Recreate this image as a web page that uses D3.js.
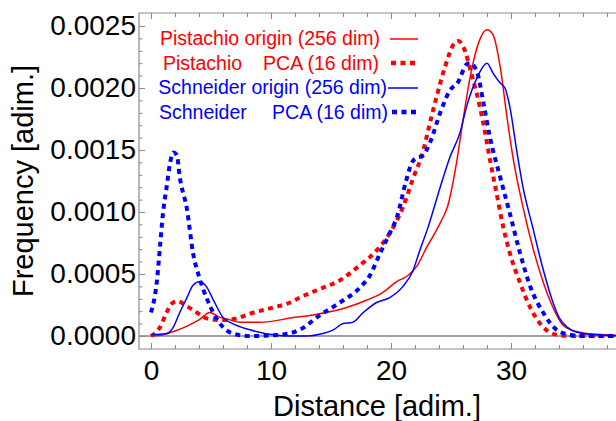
<!DOCTYPE html>
<html>
<head>
<meta charset="utf-8">
<script src="https://cdn.jsdelivr.net/npm/d3@7"></script>
<style>
  html, body { margin: 0; padding: 0; background: #fff; }
  svg text { font-family: "Liberation Sans", Arial, sans-serif; }
</style>
</head>
<body>
<svg id="chart" width="616" height="421"></svg>
<script>
// ---- Data ----
const pistachioOriginX = [0,1,2,3,4,4.9,5.75,6.6,7.4,8.8,10.2,11.6,13.5,16.3,18,19.3,20.5,21.3,22.2,23,23.6,24.2,24.7,25.5,26,26.6,27.4,28,28.5,29.1,29.7,30.2,31,31.8,32.7,33.5,34.3,35,36.3,38,40];
const pistachioOriginY = [0,0.00001,0.00004,0.00008,0.00013,0.00019,0.00015,0.00013,0.00011,0.00011,0.00012,0.000145,0.00017,0.00023,0.00029,0.00035,0.00044,0.00048,0.00057,0.00072,0.00082,0.00093,0.00104,0.00142,0.00174,0.00209,0.00239,0.00247,0.00243,0.00217,0.00174,0.00142,0.00104,0.00072,0.00043,0.00023,0.00009,0.00005,0.00002,0.00001,0];

const pistachioPCAX = [0,0.75,1.3,1.85,2.2,3,3.8,4.7,5.5,6.3,7.4,8.25,10.2,11.6,12.4,14.1,15.75,17.4,18.8,19.9,21,21.8,22.7,23.1,23.8,24.5,25.2,25.6,26.2,26.6,27,27.4,27.8,28.25,28.8,29.35,29.9,30.75,31.6,32.7,33.8,35,40];
const pistachioPCAY = [0,0.00007,0.00019,0.00027,0.00028,0.00024,0.00019,0.00014,0.00013,0.00013,0.00015,0.00018,0.00023,0.00027,0.00031,0.00038,0.00045,0.00057,0.00069,0.00083,0.00104,0.00126,0.0015,0.00166,0.00193,0.00217,0.00235,0.00238,0.00229,0.00215,0.00201,0.00185,0.00166,0.00142,0.00115,0.00088,0.00067,0.00043,0.00023,0.00007,0.00001,0,0];

const schneiderOriginX = [0,1.3,1.85,2.4,3,3.5,4.1,4.6,5.2,6,6.8,8.25,10.2,11.6,13,14.3,15.2,16,16.8,17.7,18.8,19.9,21,21.8,22.4,23.1,24.1,24.9,25.75,26.3,27.2,28,28.5,29.1,29.5,29.9,30.5,31,31.8,32.7,33.5,34,34.7,35.5,37,40];
const schneiderOriginY = [0.00001,0.00002,0.00007,0.00019,0.00031,0.00041,0.00044,0.0004,0.00029,0.00015,0.0001,0.00005,0.00001,0,0,0.00002,0.00005,0.0001,0.00011,0.00019,0.00027,0.00031,0.0004,0.00052,0.00069,0.00088,0.0012,0.00144,0.00164,0.00185,0.00209,0.0022,0.00212,0.00204,0.002,0.00185,0.00148,0.0012,0.00088,0.00053,0.00027,0.00015,0.00007,0.00003,0.00001,0];

const schneiderPCAX = [0,0.5,0.75,1,1.3,1.6,1.85,2.15,2.4,3,3.5,4,4.7,5.75,6.8,8.25,10.75,12.4,14.1,15.75,17.4,18.25,19.1,19.9,20.5,21.2,21.75,22.2,22.6,23.25,24.1,24.9,25.6,26.3,26.6,27.2,27.7,28.25,29.1,29.9,30.75,31.6,32.7,33.8,34.9,36,40];
const schneiderPCAY = [0.00019,0.00045,0.00072,0.00099,0.0012,0.0014,0.00148,0.00146,0.00128,0.00102,0.00067,0.00048,0.00029,0.0001,0.00002,0,0.00001,0.00005,0.00017,0.00027,0.00039,0.00049,0.00067,0.00083,0.00096,0.00123,0.0014,0.00144,0.00145,0.00156,0.0018,0.00198,0.00205,0.00219,0.0022,0.00212,0.00188,0.0016,0.00128,0.00099,0.00067,0.0004,0.000185,0.00005,0.00001,0,0];

const xTicks = [0,10,20,30,40];
const xTickLabels = ["0","10","20","30",""];
const yTicks = [0,0.0005,0.001,0.0015,0.002,0.0025];
const yTickLabels = ["0.0000","0.0005","0.0010","0.0015","0.0020","0.0025"];
const legendNames = ["Pistachio", "Pistachio", "Schneider", "Schneider"];
const legendKinds = ["origin (256 dim)", "PCA (16 dim)", "origin (256 dim)", "PCA (16 dim)"];
const axisTitles = {x: "Distance [adim.]", y: "Frequency [adim.]"};

// ---- Layout ----
const svg = d3.select("#chart");
const frameLeft = 139, frameTop = 13, frameBottom = 349;
const x = d3.scaleLinear().domain([-1, 40]).range([139, 631]);
const y = d3.scaleLinear().domain([0, 0.0025]).range([336, 26]);
const frameColor = "#8a8a8a";

const series = [
  {xs: pistachioOriginX, ys: pistachioOriginY, color: "#ff0000", dotted: false},
  {xs: pistachioPCAX, ys: pistachioPCAY, color: "#ff0000", dotted: true},
  {xs: schneiderOriginX, ys: schneiderOriginY, color: "#0000ff", dotted: false},
  {xs: schneiderPCAX, ys: schneiderPCAY, color: "#0000ff", dotted: true}
];

// clip
svg.append("defs").append("clipPath").attr("id", "plotclip")
  .append("rect").attr("x", frameLeft).attr("y", frameTop).attr("width", 616 - frameLeft).attr("height", frameBottom - frameTop);

// zero line
svg.append("line")
  .attr("x1", frameLeft).attr("x2", 616)
  .attr("y1", y(0)).attr("y2", y(0))
  .attr("stroke", "#808080").attr("stroke-width", 1.5);

// curves
const line = d3.line().x(d => x(d[0])).y(d => y(d[1])).curve(d3.curveMonotoneX);
const g = svg.append("g").attr("clip-path", "url(#plotclip)");
series.forEach(s => {
  const pts = s.xs.map((v, i) => [v, s.ys[i]]);
  g.append("path")
    .attr("d", line(pts))
    .attr("fill", "none")
    .attr("stroke", s.color)
    .attr("stroke-width", s.dotted ? 4 : 1.5)
    .attr("stroke-dasharray", s.dotted ? "5,4.5" : null)
    .attr("stroke-linejoin", "round");
});

// frame
svg.append("path")
  .attr("d", `M616,${frameTop}H${frameLeft}V${frameBottom}H616`)
  .attr("fill", "none").attr("stroke", frameColor).attr("stroke-width", 1.2);

// x ticks
const xMinor = d3.range(0, 41, 2).filter(v => !xTicks.includes(v));
const xAxisB = d3.axisBottom(x).tickValues(xTicks).tickSizeInner(-6).tickSizeOuter(0).tickPadding(11)
  .tickFormat((d, i) => xTickLabels[i]);
const gxb = svg.append("g").attr("transform", `translate(0,${frameBottom})`).call(xAxisB);
gxb.select(".domain").remove();
gxb.selectAll(".tick line").attr("stroke", frameColor);
gxb.selectAll("text").attr("font-size", 28).attr("fill", "#000");
const gxbm = svg.append("g").attr("transform", `translate(0,${frameBottom})`)
  .call(d3.axisBottom(x).tickValues(xMinor).tickSizeInner(-4).tickSizeOuter(0).tickFormat(""));
gxbm.select(".domain").remove();
gxbm.selectAll(".tick line").attr("stroke", frameColor);

const gxt = svg.append("g").attr("transform", `translate(0,${frameTop})`)
  .call(d3.axisTop(x).tickValues(xTicks).tickSizeInner(-6).tickSizeOuter(0).tickFormat(""));
gxt.select(".domain").remove();
gxt.selectAll(".tick line").attr("stroke", frameColor);
const gxtm = svg.append("g").attr("transform", `translate(0,${frameTop})`)
  .call(d3.axisTop(x).tickValues(xMinor).tickSizeInner(-4).tickSizeOuter(0).tickFormat(""));
gxtm.select(".domain").remove();
gxtm.selectAll(".tick line").attr("stroke", frameColor);

// y ticks
const yMinor = d3.range(0, 26).filter(v => v % 5 !== 0).map(v => v * 0.0001);
const gy = svg.append("g").attr("transform", `translate(${frameLeft},0)`)
  .call(d3.axisLeft(y).tickValues(yTicks).tickSizeInner(-6).tickSizeOuter(0).tickPadding(3)
    .tickFormat((d, i) => yTickLabels[i]));
gy.select(".domain").remove();
gy.selectAll(".tick line").attr("stroke", frameColor);
gy.selectAll("text").attr("font-size", 28).attr("fill", "#000");
const gym = svg.append("g").attr("transform", `translate(${frameLeft},0)`)
  .call(d3.axisLeft(y).tickValues(yMinor).tickSizeInner(-3.5).tickSizeOuter(0).tickFormat(""));
gym.select(".domain").remove();
gym.selectAll(".tick line").attr("stroke", frameColor);

// axis titles
svg.append("text").attr("x", 377).attr("y", 416).attr("text-anchor", "middle")
  .attr("font-size", 29).attr("fill", "#000").text(axisTitles.x);
svg.append("text").attr("transform", "translate(33,181) rotate(-90)").attr("text-anchor", "middle")
  .attr("font-size", 29).attr("fill", "#000").text(axisTitles.y);

// legend
const legendRows = [
  {nameX: 162, endX: 380, baseY: 45, lineY: 39, x1: 390, color: "#ff0000", dotted: false, split: false},
  {nameX: 163, endX: 379, baseY: 70, lineY: 63, x1: 391, color: "#ff0000", dotted: true, split: true},
  {nameX: 159, endX: 387, baseY: 94, lineY: 88, x1: 388, color: "#0000ff", dotted: false, split: false},
  {nameX: 159, endX: 388, baseY: 119, lineY: 112, x1: 392, color: "#0000ff", dotted: true, split: true}
];
legendRows.forEach((r, i) => {
  const t = svg.append("text").attr("y", r.baseY).attr("font-size", 19.5).attr("fill", r.color);
  if (r.split) {
    t.append("tspan").attr("x", r.nameX).attr("text-anchor", "start").text(legendNames[i]);
    t.append("tspan").attr("x", r.endX).attr("text-anchor", "end").text(legendKinds[i]);
  } else {
    t.attr("x", r.endX).attr("text-anchor", "end").text(legendNames[i] + " " + legendKinds[i]);
  }
  svg.append("line").attr("x1", r.x1).attr("x2", 418).attr("y1", r.lineY).attr("y2", r.lineY)
    .attr("stroke", r.color).attr("stroke-width", r.dotted ? 4.5 : 1.5)
    .attr("stroke-dasharray", r.dotted ? "5,4.5" : null);
});
</script>
</body>
</html>
